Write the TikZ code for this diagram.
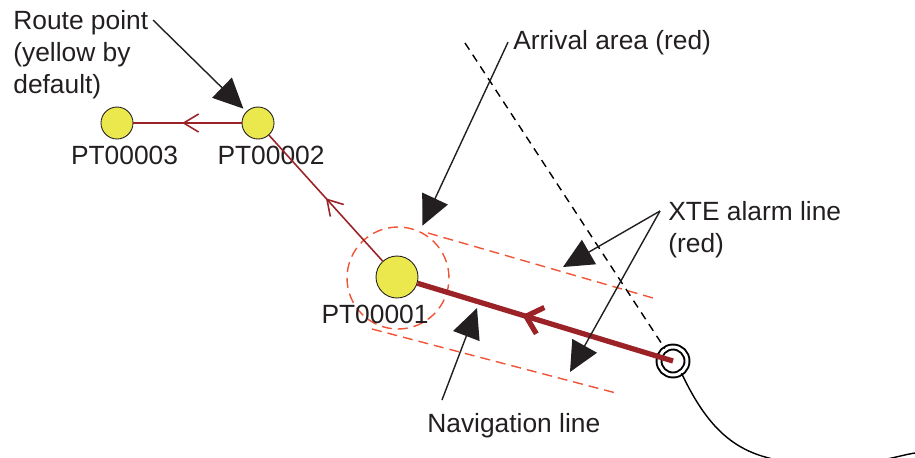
\documentclass[tikz,border=0pt]{standalone}
\usepackage{fontspec}
\setmainfont{Liberation Sans}
\usetikzlibrary{arrows.meta,decorations.markings}
\definecolor{routered}{RGB}{155,35,40}
\definecolor{xtered}{RGB}{240,85,55}
\definecolor{wpyellow}{RGB}{234,232,76}
\definecolor{txtgray}{RGB}{35,31,32}

\begin{document}
\begin{tikzpicture}[x=0.02cm,y=-0.02cm,>=Latex,
  every node/.style={font=\fontsize{15}{18}\selectfont,text=txtgray},
  wpt/.style={circle,draw=txtgray,line width=0.5pt,fill=wpyellow,inner sep=0,minimum size=0.64cm},
  lbl/.style={anchor=base,inner sep=0},
  leg/.style={routered,line width=0.9pt,postaction={decorate},
    decoration={markings,mark=at position #1 with {\arrow{Straight Barb[length=0.3cm,width=0.36cm]}}}},
  xte/.style={xtered,line width=0.8pt,dash pattern=on 0.2cm off 0.12cm},
  callout/.style={txtgray,line width=0.8pt,-{Triangle[length=0.6cm,width=0.56cm]}}]
\useasboundingbox (0,0) rectangle (915,457);
% xte alarm lines and arrival area
\draw[xte] (428,233)--(653,298); \draw[xte] (372,329)--(616,393);
\node[circle,xte,draw,minimum size=2.04cm,inner sep=0] (arrarea) at (398,278) {};
% route points
\node[wpt] (pt3) at (117,123) {}; \node[lbl] at (124.5,164) {PT00003};
\node[wpt] (pt2) at (258,123) {}; \node[lbl] at (271,164) {PT00002};
\node[wpt,minimum size=0.84cm] (pt1) at (397,277) {}; \node[lbl] at (375,323) {PT00001};
\draw[leg=0.55] (pt2) -- (pt3);
\draw[leg=0.5] (pt1) -- (pt2);
% own ship and track
\node[circle,draw=black,double,double distance=1.7pt,line width=1.1pt,minimum size=0.56cm,inner sep=0] (own) at (673,361) {};
\draw[routered,line width=3pt,postaction={decorate},
  decoration={markings,mark=at position 0.59 with {\arrow{Straight Barb[length=0.3cm,width=0.55cm]}}}] (own.center) -- (pt1);
\coordinate (trackend) at (465,43);
\draw[black,line width=0.8pt,dash pattern=on 0.16cm off 0.12cm] (trackend) -- (own);
\draw[black,line width=0.8pt] (own.-55) .. controls (720,455) and (760,462) .. (830,465) .. controls (870,466) and (900,455) .. (915,453);
% callouts
\node[anchor=base west,align=left,inner sep=0] (rptext) at (13,93) {Route point\\(yellow by\\default)};
\coordinate (rpfrom) at (153,20);
\draw[callout,shorten >=2.3pt] (rpfrom) -- (pt2);
\node[anchor=base west,inner sep=0.1cm] (arrtext) at (508,49) {Arrival area (red)};
\draw[callout,shorten >=3.4pt] (arrtext.west) -- (arrarea);
\node[anchor=base west,align=left,inner sep=0] (xtetext) at (668,252) {XTE alarm line\\(red)};
\coordinate (xtefrom) at (660,211); \coordinate (xteup) at (563,267); \coordinate (xtelow) at (570,372);
\draw[callout] (xtefrom) -- (xteup); \draw[callout] (xtefrom) -- (xtelow);
\node[anchor=base west,inner sep=0] (navtext) at (427,432) {Navigation line};
\coordinate (navfrom) at (442,400); \coordinate (navtip) at (477,308);
\draw[callout] (navfrom) -- (navtip);
\end{tikzpicture}
\end{document}
